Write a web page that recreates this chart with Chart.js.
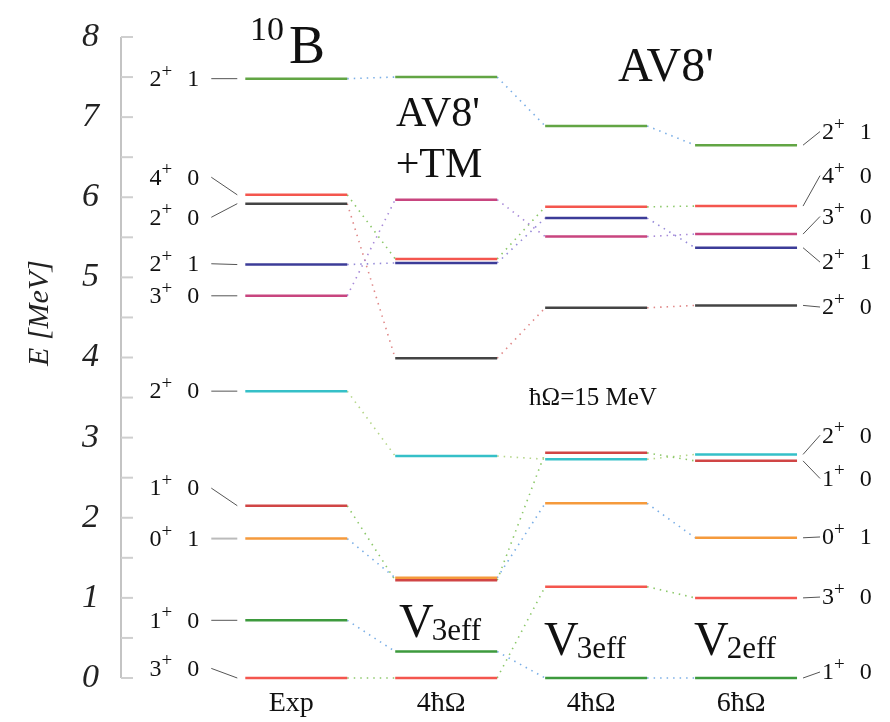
<!DOCTYPE html>
<html>
<head>
<meta charset="utf-8">
<script src="https://cdn.jsdelivr.net/npm/chart.js@4.4.1/dist/chart.umd.min.js"></script>
<style>
	html, body { margin: 0; background: #fff; }
	canvas { display: block; }
</style>
</head>
<body>
<canvas id="levels" width="890" height="722"></canvas>
<script>
'use strict'

// states, in the same order in every column
const stateJ = ['3', '1', '0', '1', '2', '3', '2', '2', '4', '2'];
const stateT = ['0', '0', '1', '0', '0', '0', '1', '0', '0', '1'];

// excitation energies [MeV] per column
const expE = [0, 0.72, 1.74, 2.15, 3.58, 4.77, 5.16, 5.92, 6.03, 7.48];
const tmE = [0, 0.33, 1.25, 1.22, 2.77, 5.97, 5.18, 3.99, 5.23, 7.50];
const v3E = [1.14, 0, 2.18, 2.81, 2.73, 5.51, 5.74, 4.62, 5.88, 6.89];
const v2E = [1.00, 0, 1.75, 2.71, 2.79, 5.54, 5.37, 4.65, 5.89, 6.65];

// where the state labels sit (energy axis)
const expLabelE = [0.12, 0.72, 1.74, 2.37, 3.58, 4.77, 5.17, 5.75, 6.25, 7.48];
const v2LabelE = [1.01, 0.075, 1.76, 2.49, 3.03, 5.76, 5.19, 4.63, 6.27, 6.82];

const columnLabels = ['Exp', '4ħΩ', '4ħΩ', '6ħΩ'];
const yTicks = [0, 1, 2, 3, 4, 5, 6, 7, 8];

const columns = [expE, tmE, v3E, v2E];

const levelColors = ['#f4564e', '#3d9a3d', '#f59a3c', '#d04545', '#35c0c8', '#c8457f', '#3c3c98', '#444444', '#f4564e', '#62a544'];
const linkColors = ['#8cc86a', '#7aaee6', '#7aaee6', '#8cc86a', '#b5d68a', '#a88ad8', '#958ad8', '#e08888', '#8cc86a', '#7aaee6'];

const halfWidth = 0.34;
const serif = '"Liberation Serif", "Times New Roman", serif';

let datasets = [];

// level bars
columns.forEach((col, c) => {
	col.forEach((e, i) => {
		datasets.push({
			data: [{x: c - halfWidth, y: e}, {x: c + halfWidth, y: e}],
			borderColor: levelColors[i],
			borderWidth: 2.5,
			pointRadius: 0,
			showLine: true,
			clip: false,
		});
	});
});

// dotted links between neighbouring columns
for (let c = 0; c < columns.length - 1; c++) {
	columns[c].forEach((e, i) => {
		datasets.push({
			data: [{x: c + halfWidth, y: e}, {x: c + 1 - halfWidth, y: columns[c + 1][i]}],
			borderColor: linkColors[i],
			borderWidth: 1.6,
			borderDash: [1.5, 5],
			pointRadius: 0,
			showLine: true,
			clip: false,
		});
	});
}

function drawState(ctx, x, y, i, align) {
	const big = '24px ' + serif;
	const small = '19px ' + serif;
	ctx.font = big;
	const wJ = ctx.measureText(stateJ[i]).width;
	const wT = ctx.measureText(stateT[i]).width;
	ctx.font = small;
	const wP = ctx.measureText('+').width;
	const gap = 15;
	let left = align === 'right' ? x - (wJ + wP + gap + wT) : x;
	ctx.textBaseline = 'middle';
	ctx.textAlign = 'left';
	ctx.font = big;
	ctx.fillText(stateJ[i], left, y + 1);
	ctx.font = small;
	ctx.fillText('+', left + wJ, y - 7);
	ctx.font = big;
	ctx.fillText(stateT[i], left + wJ + wP + gap, y + 1);
}

const decorations = {
	id: 'decorations',
	afterDatasetsDraw(chart) {
		const {ctx, chartArea: {left, top, bottom}, scales: {x, y}} = chart;
		ctx.save();

		// axis line and inward ticks
		ctx.strokeStyle = '#b0b0b0';
		ctx.lineWidth = 1.5;
		ctx.beginPath();
		ctx.moveTo(left, top);
		ctx.lineTo(left, bottom);
		ctx.stroke();
		ctx.strokeStyle = '#cfcfcf';
		ctx.lineWidth = 2;
		for (let v = 0; v <= 8; v += 0.5) {
			const py = y.getPixelForValue(v);
			ctx.beginPath();
			ctx.moveTo(left, py);
			ctx.lineTo(left + 12, py);
			ctx.stroke();
		}

		// axis title
		ctx.fillStyle = '#222';
		ctx.save();
		ctx.translate(40, 313);
		ctx.rotate(-Math.PI / 2);
		ctx.font = 'italic 30px ' + serif;
		ctx.textAlign = 'center';
		ctx.textBaseline = 'middle';
		ctx.fillText('E [MeV]', 0, 0);
		ctx.restore();

		ctx.fillStyle = '#111';
		// left labels for experiment
		const x0 = x.getPixelForValue(0 - halfWidth);
		expE.forEach((e, i) => {
			const yLev = y.getPixelForValue(e);
			const yLab = y.getPixelForValue(expLabelE[i]);
			ctx.strokeStyle = i === 2 ? '#bbbbbb' : '#555';
			ctx.lineWidth = i === 2 ? 2 : 1;
			ctx.beginPath();
			ctx.moveTo(x0 - 34, yLab);
			ctx.lineTo(x0 - 8, yLev);
			ctx.stroke();
			drawState(ctx, x0 - 46, yLab, i, 'right');
		});

		// right labels for the last column
		const x3 = x.getPixelForValue(3 + halfWidth);
		v2E.forEach((e, i) => {
			const yLev = y.getPixelForValue(e);
			const yLab = y.getPixelForValue(v2LabelE[i]);
			ctx.strokeStyle = '#555';
			ctx.lineWidth = 1;
			ctx.beginPath();
			ctx.moveTo(x3 + 6, yLev);
			ctx.lineTo(x3 + 23, yLab);
			ctx.stroke();
			drawState(ctx, x3 + 25, yLab, i, 'left');
		});

		// column captions under the bars
		ctx.textAlign = 'center';
		ctx.textBaseline = 'alphabetic';
		ctx.font = '28px ' + serif;
		columnLabels.forEach((t, c) => {
			ctx.fillText(t, x.getPixelForValue(c) - 5, 711);
		});

		// titles
		ctx.textAlign = 'left';
		ctx.font = '34px ' + serif;
		ctx.fillText('10', 250, 40);
		ctx.font = '54px ' + serif;
		ctx.fillText('B', 289, 63);

		ctx.textAlign = 'center';
		ctx.font = '48px ' + serif;
		ctx.fillText("AV8'", 666, 81);
		ctx.font = '42px ' + serif;
		ctx.fillText("AV8'", 438, 126);
		ctx.fillText('+TM', 439, 177);

		ctx.font = '25px ' + serif;
		ctx.fillText('ħΩ=15 MeV', 593, 405);

		// V labels
		const vLabel = (xl, base, sub) => {
			ctx.textAlign = 'left';
			ctx.font = '48px ' + serif;
			ctx.fillText('V', xl, base);
			const w = ctx.measureText('V').width;
			ctx.font = '31px ' + serif;
			ctx.fillText(sub, xl + w - 2, base + 3);
		};
		vLabel(399, 637, '3eff');
		vLabel(544, 655, '3eff');
		vLabel(694, 655, '2eff');

		ctx.restore();
	},
};

new Chart(document.getElementById('levels'), {
	type: 'scatter',
	data: {datasets: datasets},
	options: {
		responsive: false,
		animation: false,
		layout: {padding: {top: 37, bottom: 44, left: 0, right: 0}},
		plugins: {legend: {display: false}, tooltip: {enabled: false}},
		scales: {
			x: {type: 'linear', min: -1.169, max: 3.96, display: false},
			y: {
				min: 0,
				max: 8,
				afterFit(scale) {
					scale.width = 121;
					scale.paddingTop = 0;
					scale.paddingBottom = 0;
				},
				afterBuildTicks(scale) { scale.ticks = yTicks.map(v => ({value: v})); },
				grid: {display: false, drawTicks: false},
				border: {display: false},
				ticks: {
					padding: 22,
					color: '#222',
					font: {family: serif, style: 'italic', size: 34},
				},
			},
		},
	},
	plugins: [decorations],
});
</script>
</body>
</html>
